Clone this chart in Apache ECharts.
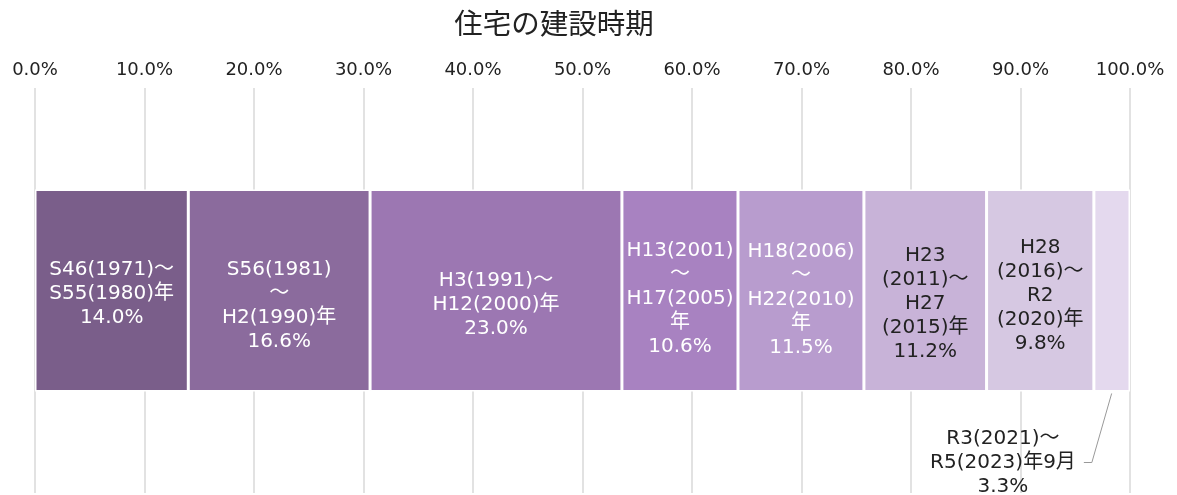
<!DOCTYPE html>
<html>
<head>
<meta charset="utf-8">
<script src="https://cdn.jsdelivr.net/npm/echarts@6/dist/echarts.min.js"></script>
<style>
  html, body { margin: 0; padding: 0; background: #fff; }
  #main { width: 1177px; height: 495px; }
</style>
</head>
<body>
<div id="main"></div>
<script>
// 住宅の建設時期 (percent of dwellings)
const periods = [
  'S46(1971)～\nS55(1980)年',
  'S56(1981)\n～\nH2(1990)年',
  'H3(1991)～\nH12(2000)年',
  'H13(2001)\n～\nH17(2005)\n年',
  'H18(2006)\n～\nH22(2010)\n年',
  'H23\n(2011)～\nH27\n(2015)年',
  'H28\n(2016)～\nR2\n(2020)年',
  'R3(2021)～\nR5(2023)年9月'
]
const shares = [14.0, 16.6, 23.0, 10.6, 11.5, 11.2, 9.8, 3.3]
const colors = ['#7a5e8a', '#8b6b9d', '#9c77b2', '#a882c1', '#b89cce', '#c8b3d8', '#d6c8e2', '#e4d9ee']
const labelColors = ['#fff', '#fff', '#fff', '#fff', '#fff', '#222', '#222', '#222']
const labelShift = [3, 15, 14, 8, 9, 13, 5]
const tickValues = [0, 10, 20, 30, 40, 50, 60, 70, 80, 90, 100]

const font = '"DejaVu Sans", "Noto Sans CJK JP", sans-serif'
const chart = echarts.init(document.getElementById('main'))
const last = shares.length - 1
const BAR_W = 202

const series = shares.map((v, i) => ({
  name: periods[i],
  type: 'bar',
  stack: 'all',
  barWidth: BAR_W,
  data: [v],
  itemStyle: { color: colors[i], borderColor: '#fff', borderWidth: 1.5 },
  label: {
    show: i !== last,
    position: 'inside',
    offset: [0, labelShift[i] || 0],
    align: 'center',
    verticalAlign: 'middle',
    color: labelColors[i],
    fontFamily: font,
    fontSize: 20,
    lineHeight: 24,
    formatter: p => periods[i] + '\n' + p.value.toFixed(1) + '%'
  }
}))

// the thin last slice gets its label outside, hung from the middle of its bottom edge
const lastStart = shares.slice(0, last).reduce((a, b) => a + b, 0)
series.push({
  type: 'scatter',
  data: [[lastStart + shares[last] / 2, 0]],
  symbolSize: 2,
  symbolOffset: [0, BAR_W / 2 + 1],
  itemStyle: { color: 'rgba(0,0,0,0)', opacity: 1 },
  silent: true,
  label: {
    show: true,
    position: [-108, 71],
    align: 'center',
    verticalAlign: 'middle',
    padding: [0, 8],
    color: '#222',
    opacity: 1,
    fontFamily: font,
    fontSize: 20,
    lineHeight: 24,
    formatter: () => periods[last] + '\n' + shares[last].toFixed(1) + '%'
  },
  labelLine: { show: true, length2: 8, lineStyle: { color: '#999', width: 1, opacity: 1 } }
})

chart.setOption({
  animation: false,
  title: {
    text: '住宅の建設時期',
    left: 549,
    top: 4,
    textAlign: 'center',
    textStyle: { fontFamily: '"Noto Sans CJK JP", sans-serif', fontSize: 28.5, fontWeight: 'normal', color: '#222' }
  },
  grid: { left: 35, right: 47, top: 88, bottom: 2 },
  xAxis: {
    type: 'value',
    position: 'top',
    min: 0,
    max: 100,
    interval: 10,
    axisLine: { show: false },
    axisTick: { show: false },
    splitLine: { lineStyle: { color: '#d9d9d9', width: 1.5 } },
    axisLabel: {
      margin: 9,
      color: '#222',
      fontFamily: font,
      fontSize: 18,
      formatter: v => tickValues.includes(v) ? v.toFixed(1) + '%' : ''
    }
  },
  yAxis: {
    type: 'category',
    data: ['住宅'],
    show: false
  },
  series: series
})
</script>
</body>
</html>
